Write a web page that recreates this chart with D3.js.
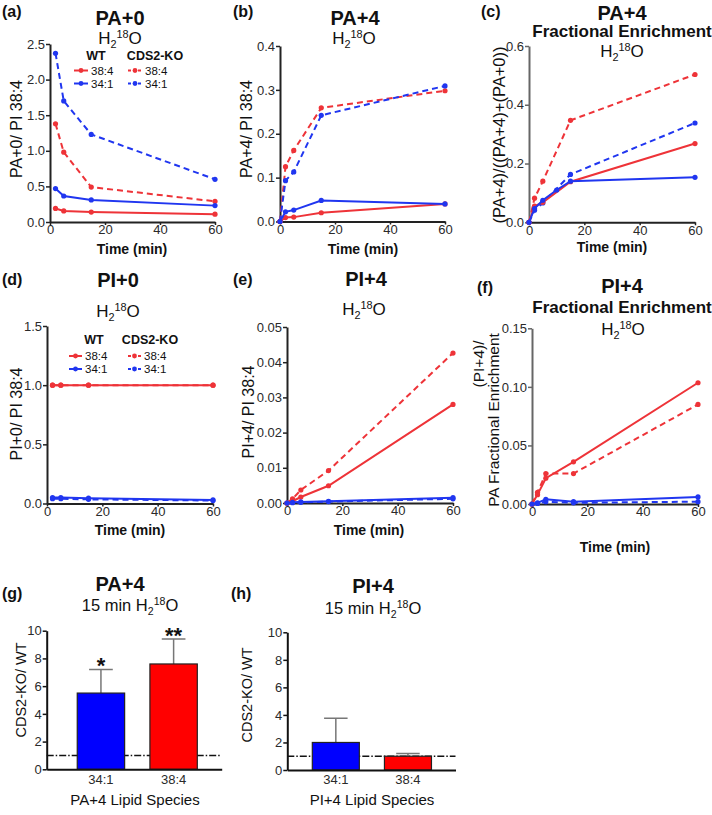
<!DOCTYPE html>
<html>
<head>
<meta charset="utf-8">
<script src="https://cdn.jsdelivr.net/npm/d3@7"></script>
<style>
body { margin: 0; background: #fff; }
svg { display: block; font-family: Arial, "Liberation Sans", Helvetica, sans-serif; }
</style>
</head>
<body>
<svg width="712" height="815"></svg>
<script>
// time points (min)
var timesNoZero = [2, 5, 15, 60];
var times = [0, 2, 5, 15, 60];
var timesC341 = [0, 2, 5, 10, 15, 60];
var timeTicks = [0, 20, 40, 60];

// (a) PA+0 / PI 38:4
var aWt384 = [0.19, 0.155, 0.14, 0.11];
var aWt341 = [0.47, 0.365, 0.31, 0.23];
var aKo384 = [1.38, 0.98, 0.49, 0.29];
var aKo341 = [2.37, 1.70, 1.23, 0.60];
var aTicks = [0, 0.5, 1.0, 1.5, 2.0, 2.5];

// (b) PA+4 / PI 38:4
var bWt384 = [0, 0.009, 0.010, 0.020, 0.040];
var bWt341 = [0, 0.022, 0.026, 0.048, 0.040];
var bKo384 = [0, 0.125, 0.162, 0.259, 0.298];
var bKo341 = [0, 0.093, 0.113, 0.242, 0.309];
var bTicks = [0, 0.1, 0.2, 0.3, 0.4];

// (c) PA+4 fractional enrichment
var cWt384 = [0, 0.055, 0.068, 0.138, 0.268];
var cWt341 = [0, 0.047, 0.075, 0.11, 0.14, 0.153];
var cKo384 = [0, 0.082, 0.14, 0.347, 0.503];
var cKo341 = [0, 0.041, 0.066, 0.163, 0.338];
var cTicks = [0, 0.2, 0.4, 0.6];

// (d) PI+0 / PI 38:4
var dWt384 = [1, 1, 1, 1];
var dKo384 = [1, 1, 1, 1];
var dWt341 = [0.05, 0.05, 0.045, 0.03];
var dKo341 = [0.04, 0.04, 0.035, 0.025];
var dTicks = [0, 0.5, 1.0, 1.5];

// (e) PI+4 / PI 38:4
var eWt384 = [0, 0.0005, 0.0017, 0.0049, 0.028];
var eKo384 = [0, 0.0012, 0.0037, 0.0092, 0.0426];
var eWt341 = [0, 0.0002, 0.0003, 0.0005, 0.0015];
var eKo341 = [0, 0.0001, 0.0002, 0.0004, 0.0012];
var eTicks = [0, 0.01, 0.02, 0.03, 0.04, 0.05];

// (f) PI+4 / PA fractional enrichment
var fWt384 = [0, 0.008, 0.022, 0.036, 0.1035];
var fKo384 = [0, 0.010, 0.026, 0.026, 0.085];
var fWt341 = [0, 0.001, 0.004, 0.002, 0.006];
var fKo341 = [0, 0.0005, 0.002, 0.001, 0.002];
var fTicks = [0, 0.05, 0.10, 0.15];

// (g), (h) CDS2-KO / WT at 15 min
var barSpecies = ["34:1", "38:4"];
var gMeans = [5.5, 7.6];
var gUpper = [7.2, 9.4];
var gStars = ["*", "**"];
var hMeans = [2.0, 1.0];
var hUpper = [3.75, 1.2];
var hStars = ["", ""];
var barTicks = [0, 2, 4, 6, 8, 10];

var red = '#ee3338';
var blue = '#2036f0';
var barColors = ['#0000ff', '#ff0000'];

var svg = d3.select('svg');

function styleAxis(ax, color) {
  ax.select('.domain').attr('stroke', color).attr('stroke-width', 2);
  ax.selectAll('.tick line').attr('stroke', color).attr('stroke-width', 1.5);
  ax.selectAll('.tick text').attr('fill', '#2a2a2a').style('font-size', '13px');
}

function drawSeries(g, x, y, s) {
  var pts = s.t.map((t, i) => [t, s.v[i]]);
  var line = d3.line().x(d => x(d[0])).y(d => y(d[1]));
  g.append('path')
    .datum(pts)
    .attr('d', line)
    .attr('fill', 'none')
    .attr('stroke', s.color)
    .attr('stroke-width', 2)
    .attr('stroke-dasharray', s.dash ? '6,4' : null);
  g.selectAll(null)
    .data(pts)
    .enter()
    .append('circle')
      .attr('cx', d => x(d[0]))
      .attr('cy', d => y(d[1]))
      .attr('r', 2.6)
      .attr('fill', s.color);
}

function linePanel(p) {
  var x = d3.scaleLinear().domain([0, 60]).range([p.left, p.right]);
  var y = d3.scaleLinear().domain([0, p.yMax]).range([p.bottom, p.top]);
  var g = svg.append('g');

  var xa = g.append('g')
    .attr('transform', 'translate(0,' + p.bottom + ')')
    .call(d3.axisBottom(x).tickValues(timeTicks).tickSize(3).tickSizeOuter(0).tickPadding(0));
  styleAxis(xa, '#222');

  var ya = g.append('g')
    .attr('transform', 'translate(' + p.left + ',0)')
    .call(d3.axisLeft(y).tickValues(p.yTicks).tickFormat(d3.format(p.fmt)).tickSize(4).tickSizeOuter(0).tickPadding(1));
  styleAxis(ya, p.axisColor);

  p.series.forEach(s => drawSeries(g, x, y, s));
}

function water(x, y, size, prefix) {
  var t = svg.append('text')
    .attr('x', x).attr('y', y)
    .attr('text-anchor', 'middle')
    .attr('fill', '#111')
    .style('font-size', size + 'px');
  if (prefix) t.append('tspan').text(prefix);
  t.append('tspan').text('H');
  t.append('tspan').attr('dy', 4).style('font-size', (size * 0.64) + 'px').text('2');
  t.append('tspan').attr('dy', -10).style('font-size', (size * 0.64) + 'px').text('18');
  t.append('tspan').attr('dy', 6).text('O');
}

function label(txt, x, y, size, bold, anchor) {
  return svg.append('text')
    .attr('x', x).attr('y', y)
    .attr('text-anchor', anchor || 'middle')
    .attr('fill', '#111')
    .style('font-size', size + 'px')
    .style('font-weight', bold ? 'bold' : 'normal')
    .text(txt);
}

function yLabel(txt, x, y, size) {
  svg.append('text')
    .attr('transform', 'translate(' + x + ',' + y + ') rotate(-90)')
    .attr('text-anchor', 'middle')
    .attr('fill', '#111')
    .style('font-size', size + 'px')
    .text(txt);
}

function legend(L) {
  label('WT', L.wtHead, L.headY, 12.5, true);
  label('CDS2-KO', L.koHead, L.headY, 12.5, true);
  var rows = [['38:4', red], ['34:1', blue]];
  rows.forEach(function (r, i) {
    var ly = L.rowY + i * 13;
    [[L.wtX, null], [L.koX, '3,2']].forEach(function (c) {
      svg.append('line')
        .attr('x1', c[0]).attr('x2', c[0] + L.len)
        .attr('y1', ly).attr('y2', ly)
        .attr('stroke', r[1]).attr('stroke-width', 2)
        .attr('stroke-dasharray', c[1]);
      svg.append('circle')
        .attr('cx', c[0] + L.len / 2).attr('cy', ly).attr('r', 2.4)
        .attr('fill', r[1]);
      label(r[0], c[0] + L.len + 3, ly + 4.2, 11.5, false, 'start');
    });
  });
}

function fourSeries(t1, wt384, wt341, ko384, ko341, t2) {
  return [
    {t: t1, v: ko384, color: red, dash: true},
    {t: t1, v: ko341, color: blue, dash: true},
    {t: t1, v: wt384, color: red, dash: false},
    {t: t2 || t1, v: wt341, color: blue, dash: false}
  ];
}

// ---- (a)
linePanel({left: 50, right: 215, top: 44, bottom: 222, yMax: 2.5, yTicks: aTicks, fmt: '.1f', axisColor: '#222',
  series: fourSeries(timesNoZero, aWt384, aWt341, aKo384, aKo341)});
label('(a)', 2, 17, 16, true, 'start');
label('PA+0', 120, 25, 20, true);
water(120, 44, 17);
label('Time (min)', 132, 254, 14, true);
yLabel('PA+0/ PI 38:4', 22, 129, 16);
legend({wtHead: 96, koHead: 155, headY: 60, rowY: 70.5, wtX: 74, koX: 128, len: 14});

// ---- (b)
linePanel({left: 280, right: 445, top: 46, bottom: 221.5, yMax: 0.4, yTicks: bTicks, fmt: '.1f', axisColor: '#222',
  series: fourSeries(times, bWt384, bWt341, bKo384, bKo341)});
label('(b)', 233, 17, 16, true, 'start');
label('PA+4', 355, 25, 20, true);
water(354, 44, 17);
label('Time (min)', 363, 254, 14, true);
yLabel('PA+4/ PI 38:4', 252, 129, 16);

// ---- (c)
linePanel({left: 529, right: 695, top: 46, bottom: 222.3, yMax: 0.6, yTicks: cTicks, fmt: '.1f', axisColor: '#666',
  series: fourSeries(times, cWt384, cWt341, cKo384, cKo341, timesC341)});
label('(c)', 481, 17, 16, true, 'start');
label('PA+4', 622, 20, 20, true);
label('Fractional Enrichment', 622, 37, 17, true);
water(622, 57, 17);
label('Time (min)', 612, 252, 14, true);
yLabel('(PA+4)/((PA+4)+(PA+0))', 505, 135, 16.5);

// ---- (d)
linePanel({left: 47, right: 213, top: 326, bottom: 503.5, yMax: 1.5, yTicks: dTicks, fmt: '.1f', axisColor: '#222',
  series: fourSeries(timesNoZero, dWt384, dWt341, dKo384, dKo341)});
label('(d)', 2, 285, 16, true, 'start');
label('PI+0', 118, 287, 20, true);
water(118, 317, 17);
label('Time (min)', 130, 535, 14, true);
yLabel('PI+0/ PI 38:4', 22, 414, 16);
legend({wtHead: 94, koHead: 150, headY: 344, rowY: 356, wtX: 69, koX: 128, len: 13});

// ---- (e)
linePanel({left: 287, right: 453, top: 327, bottom: 503, yMax: 0.05, yTicks: eTicks, fmt: '.2f', axisColor: '#222',
  series: fourSeries(times, eWt384, eWt341, eKo384, eKo341)});
label('(e)', 233, 285, 16, true, 'start');
label('PI+4', 366, 286, 20, true);
water(364, 315, 17);
label('Time (min)', 369, 535, 14, true);
yLabel('PI+4/ PI 38:4', 254, 412, 16);

// ---- (f)
linePanel({left: 532, right: 698, top: 328.3, bottom: 504, yMax: 0.15, yTicks: fTicks, fmt: '.2f', axisColor: '#666',
  series: fourSeries(times, fWt384, fWt341, fKo384, fKo341)});
label('(f)', 477, 293, 16, true, 'start');
label('PI+4', 622, 293, 20, true);
label('Fractional Enrichment', 622, 313, 17, true);
water(623, 335, 17);
label('Time (min)', 615, 552, 14, true);
yLabel('(PI+4)/', 484, 364, 15.5);
yLabel('PA Fractional Enrichment', 499, 420, 15.5);

// ---- bar panels
function barPanel(p) {
  var x = d3.scaleBand().domain(barSpecies).range([p.left, p.right])
    .paddingInner(0.348).paddingOuter(p.po).align(p.align);
  var y = d3.scaleLinear().domain([0, 10]).range([p.bottom, p.top]);
  var g = svg.append('g');

  // reference line at ratio 1
  g.append('line')
    .attr('x1', p.left).attr('x2', p.right)
    .attr('y1', y(1)).attr('y2', y(1))
    .attr('stroke', '#111').attr('stroke-width', 1.5)
    .attr('stroke-dasharray', '7,2,1.5,2');

  var data = barSpecies.map((s, i) => ({s: s, m: p.means[i], u: p.upper[i], star: p.stars[i], c: barColors[i]}));

  // error bars (upper only)
  g.selectAll('.err').data(data).enter().append('path')
    .attr('class', 'err')
    .attr('d', d => {
      var cx = x(d.s) + x.bandwidth() / 2, w = x.bandwidth() / 4;
      return 'M' + cx + ',' + y(d.m) + 'V' + y(d.u) + 'M' + (cx - w) + ',' + y(d.u) + 'H' + (cx + w);
    })
    .attr('fill', 'none').attr('stroke', '#777').attr('stroke-width', 1.5);

  g.selectAll('.bar').data(data).enter().append('rect')
    .attr('class', 'bar')
    .attr('x', d => x(d.s))
    .attr('width', x.bandwidth())
    .attr('y', d => y(d.m))
    .attr('height', d => y(0) - y(d.m))
    .attr('fill', d => d.c)
    .attr('stroke', '#222').attr('stroke-width', 1.2);

  g.selectAll('.star').data(data).enter().append('text')
    .attr('class', 'star')
    .attr('x', d => x(d.s) + x.bandwidth() / 2)
    .attr('y', d => y(d.u) + 3.5)
    .attr('text-anchor', 'middle')
    .style('font-size', '22px').style('font-weight', 'bold')
    .attr('fill', '#111')
    .text(d => d.star);

  var xa = g.append('g')
    .attr('transform', 'translate(0,' + p.bottom + ')')
    .call(d3.axisBottom(x).tickSize(0).tickSizeOuter(0).tickPadding(5));
  styleAxis(xa, '#111');

  var ya = g.append('g')
    .attr('transform', 'translate(' + p.left + ',0)')
    .call(d3.axisLeft(y).tickValues(barTicks).tickFormat(d3.format('d')).tickSize(4).tickSizeOuter(0).tickPadding(1));
  styleAxis(ya, '#111');
}

// ---- (g)
barPanel({left: 46.7, right: 221.7, top: 630.7, bottom: 769.3, po: 0.378, align: 0.556,
  means: gMeans, upper: gUpper, stars: gStars});
label('(g)', 2, 599, 16, true, 'start');
label('PA+4', 120, 591, 20, true);
water(130, 611, 16.5, '15 min ');
label('PA+4 Lipid Species', 135, 805, 15);
yLabel('CDS2-KO/ WT', 26, 690, 14.5);

// ---- (h)
barPanel({left: 287.3, right: 455.5, top: 632.3, bottom: 770, po: 0.34, align: 0.51,
  means: hMeans, upper: hUpper, stars: hStars});
label('(h)', 231, 599, 16, true, 'start');
label('PI+4', 373, 593, 20, true);
water(373, 614, 16.5, '15 min ');
label('PI+4 Lipid Species', 372, 805, 15);
yLabel('CDS2-KO/ WT', 252, 695, 14.5);
</script>
</body>
</html>
